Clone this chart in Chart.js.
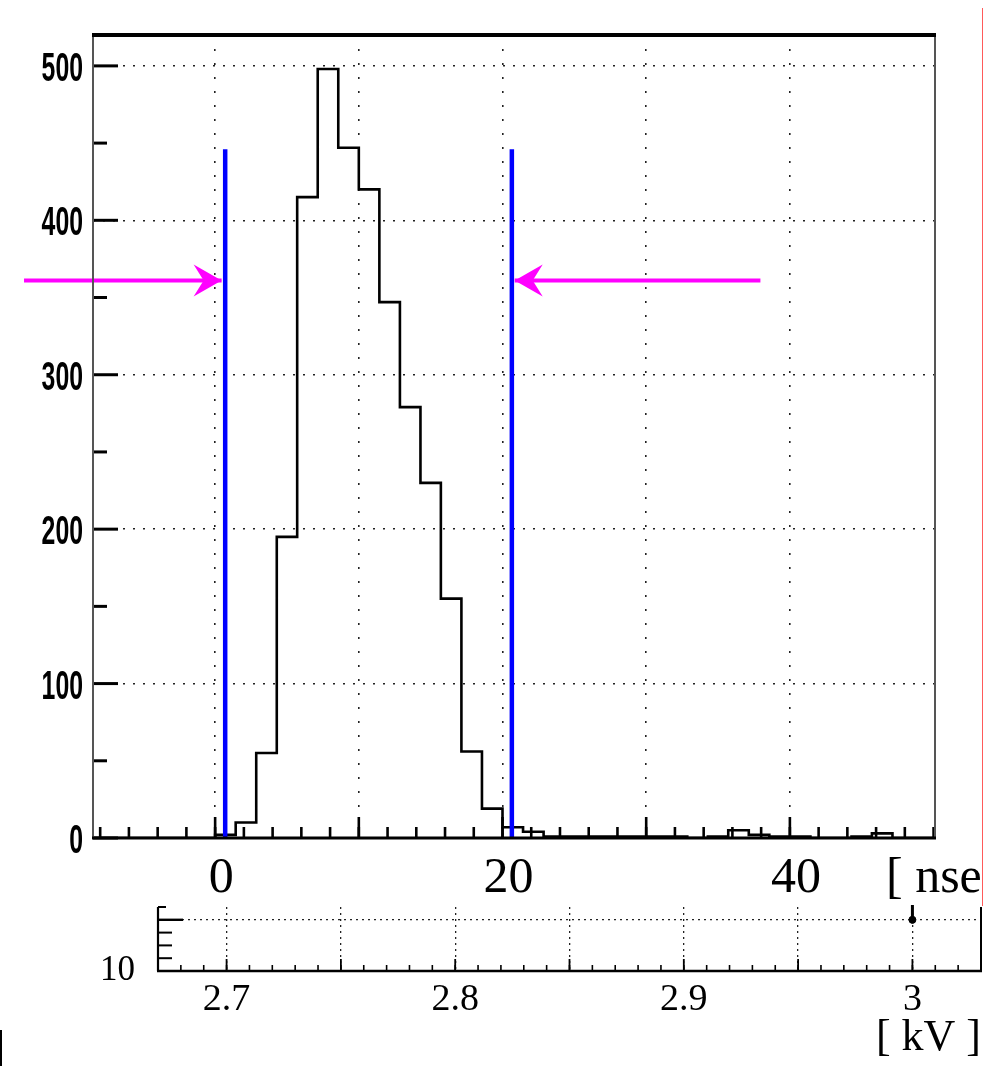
<!DOCTYPE html>
<html>
<head>
<meta charset="utf-8">
<script src="https://cdn.jsdelivr.net/npm/chart.js@4.4.1/dist/chart.umd.min.js"></script>
<style>
  html, body { margin: 0; padding: 0; background: #fff; }
  body { width: 986px; height: 1066px; position: relative; overflow: hidden; }
  #main { position: absolute; left: 0; top: 0; }
  #sub { position: absolute; left: 0; top: 880px; }
  #redEdge { position: absolute; left: 982px; top: 8px; width: 1px; height: 898px; background: #ff5a5a; }
  #blackBit { position: absolute; left: 0; top: 1030px; width: 2px; height: 36px; background: #000; }
</style>
</head>
<body>
<canvas id="main" width="986" height="905"></canvas>
<canvas id="sub" width="986" height="186"></canvas>
<div id="redEdge"></div>
<div id="blackBit"></div>
<script>
// ---------------- DATA ----------------
// histogram bin left edges [nsec]
const binLeftEdges = [-8.57, -7.14, -5.71, -4.29, -2.86, -1.43, 0, 1.43, 2.86, 4.29, 5.71, 7.14, 8.57, 10,
  11.43, 12.86, 14.29, 15.71, 17.14, 18.57, 20, 21.43, 22.86, 24.29, 25.71, 27.14, 28.57, 30,
  31.43, 32.86, 34.29, 35.71, 37.14, 38.57, 40, 41.43, 42.86, 44.29, 45.71, 47.14, 48.57];
const histLastEdge = 50;
// counts per bin
const binCounts = [0, 0, 0, 0, 0, 0, 2, 10, 55, 195, 415, 498, 447, 420,
  347, 279, 230, 155, 56, 19, 7, 4, 1, 1, 1, 1, 1, 1,
  1, 0, 1, 5, 2, 1, 1, 0, 0, 1, 3, 0, 0];

// cut lines (blue)
const cutPositions = [0.7, 20.65];
const cutHeight = 446;

// arrows (magenta): start, tip, level
const arrowLeft = { from: -13.3, tip: 0.45, y: 361 };
const arrowRight = { from: 37.95, tip: 20.85, y: 361 };

// main axis ticks / labels
const mainYTicks = [0, 100, 200, 300, 400, 500];
const mainYLabels = ["0", "100", "200", "300", "400", "500"];
const mainXTicks = [0, 10, 20, 30, 40];
const mainXLabelValues = [0, 20, 40];
const mainXLabels = ["0", "20", "40"];
const mainXUnit = "[ nsec ]";

// lower panel
const subXTicks = [2.7, 2.75, 2.8, 2.85, 2.9, 2.95, 3.0];
const subXLabelValues = [2.7, 2.8, 2.9, 3.0];
const subXLabels = ["2.7", "2.8", "2.9", "3"];
const subYTicks = [11];
const subYLabelValues = [10];
const subYLabels = ["10"];
const subXUnit = "[ kV ]";
const subPointsX = [3.0];
const subPointsY = [11];
const subErrLow = [10.93];
const subErrHigh = [11.3];

// ---------------- helpers ----------------
function seg(ctx, x1, y1, x2, y2, w, c) {
  ctx.beginPath(); ctx.lineWidth = w; ctx.strokeStyle = c || '#000';
  ctx.moveTo(x1, y1); ctx.lineTo(x2, y2); ctx.stroke();
}
function arrowHead(ctx, tx, ty, dir) {
  ctx.beginPath();
  ctx.fillStyle = '#ff00ff';
  ctx.moveTo(tx, ty);
  ctx.lineTo(tx - dir * 28, ty - 16);
  ctx.lineTo(tx - dir * 18, ty);
  ctx.lineTo(tx - dir * 28, ty + 16);
  ctx.closePath();
  ctx.fill();
}

// ---------------- MAIN CHART ----------------
const histData = binLeftEdges.map((e, i) => ({ x: e, y: binCounts[i] }));
histData.push({ x: histLastEdge, y: 0 });

const cutSets = cutPositions.map(c => ({
  data: [{ x: c, y: 0 }, { x: c, y: cutHeight }],
  borderColor: '#0000ff', borderWidth: 4.5, pointRadius: 0, fill: false, order: 0
}));
const arrowSets = [arrowLeft, arrowRight].map(a => ({
  data: [{ x: a.from, y: a.y }, { x: a.tip, y: a.y }],
  borderColor: '#ff00ff', borderWidth: 4, pointRadius: 0, fill: false, clip: false, order: 1
}));

const mainDecor = {
  id: 'mainDecor',
  afterDatasetsDraw(chart) {
    const { ctx, chartArea: a, scales: { x, y } } = chart;
    ctx.save();
    // arrow heads
    [arrowLeft, arrowRight].forEach(ar => {
      const dir = ar.tip > ar.from ? 1 : -1;
      arrowHead(ctx, x.getPixelForValue(ar.tip), y.getPixelForValue(ar.y), dir);
    });
    // y ticks
    for (let v = 50; v < 520; v += 100) {
      const py = y.getPixelForValue(v);
      seg(ctx, a.left, py, a.left + 14, py, 3);
    }
    mainYTicks.forEach(v => {
      const py = y.getPixelForValue(v);
      seg(ctx, a.left, py, a.left + 25, py, 3);
    });
    // x ticks
    for (let v = -8; v <= 50; v += 2) {
      const px = x.getPixelForValue(v);
      if (px < a.left + 1 || px > a.right - 1) continue;
      seg(ctx, px, a.bottom, px, a.bottom - 11, 2.6);
    }
    mainXTicks.forEach(v => {
      const px = x.getPixelForValue(v);
      seg(ctx, px, a.bottom, px, a.bottom - 21, 2.6);
    });
    // frame
    seg(ctx, a.left, a.top, a.left, a.bottom, 2, '#555');
    seg(ctx, a.right, a.top, a.right, a.bottom, 2, '#555');
    seg(ctx, a.left - 1, a.top, a.right + 1, a.top, 4, '#000');
    seg(ctx, a.left - 1, a.bottom, a.right + 1, a.bottom, 3, '#000');
    // y labels (bold condensed)
    ctx.fillStyle = '#000';
    ctx.font = 'bold 40px "Liberation Sans", Arial, sans-serif';
    ctx.textAlign = 'right';
    ctx.textBaseline = 'middle';
    mainYTicks.forEach((v, i) => {
      const py = y.getPixelForValue(v);
      ctx.save();
      ctx.translate(83, py + 4);
      ctx.scale(0.62, 1);
      ctx.fillText(mainYLabels[i], 0, 0);
      ctx.restore();
    });
    // x labels
    ctx.font = '50px "Liberation Serif", "Times New Roman", serif';
    ctx.textAlign = 'center';
    ctx.textBaseline = 'alphabetic';
    mainXLabelValues.forEach((v, i) => {
      ctx.fillText(mainXLabels[i], x.getPixelForValue(v) + 6, 892);
    });
    // unit (clipped at the right edge)
    ctx.save();
    ctx.beginPath(); ctx.rect(0, 0, 982, 905); ctx.clip();
    ctx.textAlign = 'left';
    ctx.fillText(mainXUnit, 886, 892);
    ctx.restore();
    ctx.restore();
  }
};

new Chart(document.getElementById('main'), {
  type: 'line',
  data: {
    datasets: [
      ...cutSets,
      ...arrowSets,
      { data: histData, stepped: 'before', borderColor: '#000', borderWidth: 2.6,
        pointRadius: 0, fill: false, order: 2 }
    ]
  },
  options: {
    responsive: false, animation: false, devicePixelRatio: 1,
    layout: { padding: { left: 93, top: 35, right: 51, bottom: 67 } },
    plugins: { legend: { display: false }, tooltip: { enabled: false } },
    scales: {
      x: {
        type: 'linear', min: -8.5, max: 50.1,
        afterBuildTicks: s => { s.ticks = mainXTicks.map(v => ({ value: v })); },
        afterFit: s => { s.height = 0; },
        ticks: { display: false },
        grid: { drawTicks: false, color: '#222', lineWidth: 1.6 },
        border: { display: false, dash: [2, 12] }
      },
      y: {
        type: 'linear', min: 0, max: 520,
        afterBuildTicks: s => { s.ticks = mainYTicks.map(v => ({ value: v })); },
        afterFit: s => { s.width = 0; },
        ticks: { display: false },
        grid: { drawTicks: false, lineWidth: 1.6,
          color: c => (c.tick && c.tick.value === 0) ? 'rgba(0,0,0,0)' : '#222' },
        border: { display: false, dash: [2, 8] }
      }
    }
  },
  plugins: [mainDecor]
});

// ---------------- LOWER PANEL ----------------
const subDecor = {
  id: 'subDecor',
  afterDatasetsDraw(chart) {
    const { ctx, chartArea: a, scales: { x, y } } = chart;
    ctx.save();
    // error bars
    subPointsX.forEach((v, i) => {
      const px = x.getPixelForValue(v);
      const top = Math.max(a.top - 2, y.getPixelForValue(subErrHigh[i]));
      seg(ctx, px, y.getPixelForValue(subErrLow[i]), px, top, 3);
    });
    // x ticks
    for (let v = 2.68; v <= 3.031; v += 0.01) {
      const px = x.getPixelForValue(v);
      if (px < a.left + 1 || px > a.right - 1) continue;
      seg(ctx, px, a.bottom, px, a.bottom - 6, 1.6);
    }
    subXTicks.forEach(v => {
      const px = x.getPixelForValue(v);
      seg(ctx, px, a.bottom, px, a.bottom - 12, 1.8);
    });
    // y ticks
    [10.25, 10.5, 10.75].forEach(v => {
      const py = y.getPixelForValue(v);
      seg(ctx, a.left, py, a.left + 14, py, 2);
    });
    subYTicks.forEach(v => {
      const py = y.getPixelForValue(v);
      seg(ctx, a.left, py, a.left + 25, py, 2.4);
    });
    // frame
    seg(ctx, a.left, a.top, a.left, a.bottom, 2.2);
    seg(ctx, a.right, a.top, a.right, a.bottom, 2);
    seg(ctx, a.left - 1, a.bottom, a.right + 1, a.bottom, 2.4);
    seg(ctx, a.left, a.top, a.left + 8, a.top, 2);
    // labels
    ctx.fillStyle = '#000';
    ctx.font = '38px "Liberation Serif", "Times New Roman", serif';
    ctx.textAlign = 'center';
    ctx.textBaseline = 'alphabetic';
    subXLabelValues.forEach((v, i) => {
      ctx.fillText(subXLabels[i], x.getPixelForValue(v), 130);
    });
    ctx.font = '35px "Liberation Serif", "Times New Roman", serif';
    ctx.textAlign = 'right';
    subYLabelValues.forEach((v, i) => {
      ctx.fillText(subYLabels[i], 135, y.getPixelForValue(v) + 9);
    });
    ctx.font = '44px "Liberation Serif", "Times New Roman", serif';
    ctx.fillText(subXUnit, 981, 170);
    ctx.restore();
  }
};

new Chart(document.getElementById('sub'), {
  type: 'line',
  data: {
    datasets: [
      { data: subPointsX.map((px, i) => ({ x: px, y: subPointsY[i] })), showLine: false,
        pointRadius: 3.5, pointBackgroundColor: '#000', pointBorderColor: '#000', order: 0 }
    ]
  },
  options: {
    responsive: false, animation: false, devicePixelRatio: 1,
    layout: { padding: { left: 158, top: 27, right: 3, bottom: 95 } },
    plugins: { legend: { display: false }, tooltip: { enabled: false } },
    scales: {
      x: {
        type: 'linear', min: 2.67, max: 3.03,
        afterBuildTicks: s => { s.ticks = subXTicks.map(v => ({ value: v })); },
        afterFit: s => { s.height = 0; },
        ticks: { display: false },
        grid: { drawTicks: false, color: '#222', lineWidth: 1.3 },
        border: { display: false, dash: [2, 4] }
      },
      y: {
        type: 'linear', min: 10, max: 11.25,
        afterBuildTicks: s => { s.ticks = subYTicks.map(v => ({ value: v })); },
        afterFit: s => { s.width = 0; },
        ticks: { display: false },
        grid: { drawTicks: false, color: '#222', lineWidth: 1.3 },
        border: { display: false, dash: [2, 4] }
      }
    }
  },
  plugins: [subDecor]
});
</script>
</body>
</html>
